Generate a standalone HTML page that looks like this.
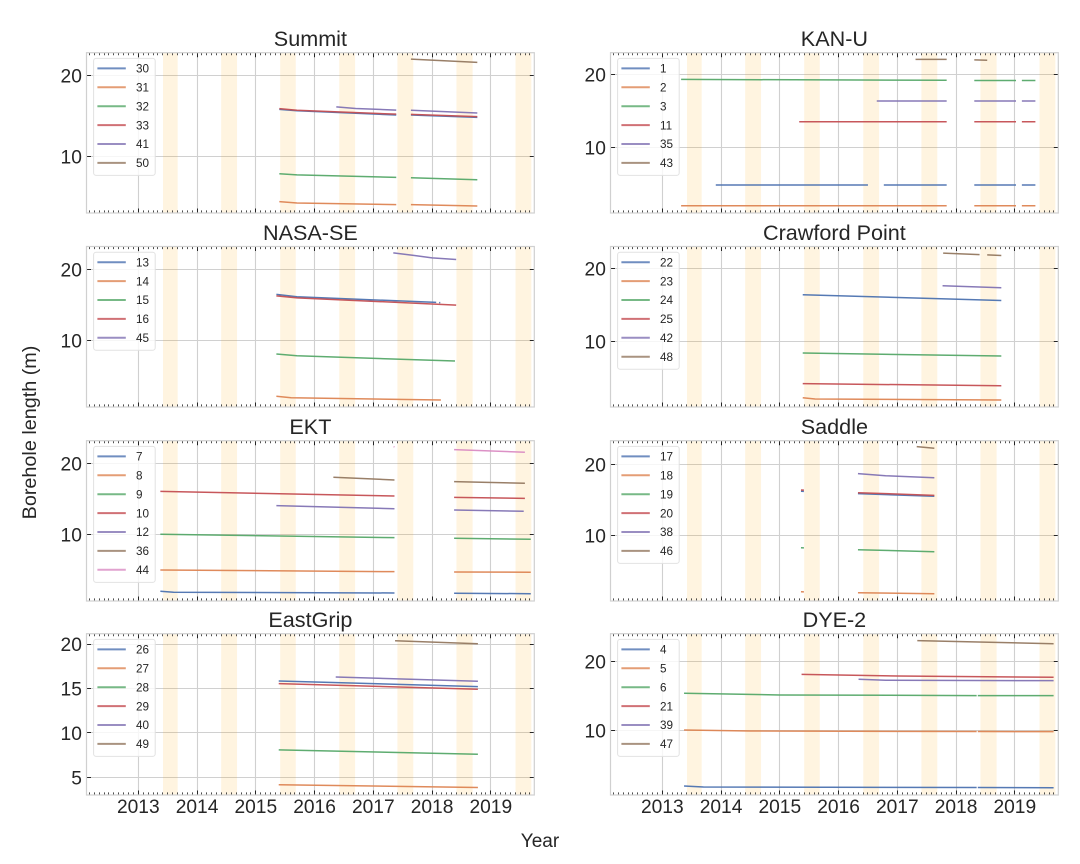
<!DOCTYPE html>
<html lang="en">
<head>
<meta charset="utf-8">
<title>Borehole length by site</title>
<style>
  html, body { margin: 0; padding: 0; background: #ffffff; }
  #figure { display: block; width: 1080px; height: 864px; }
  text { font-family: "Liberation Sans", Arial, sans-serif; fill: #262626; }
</style>
</head>
<body>
<svg id="figure" xmlns="http://www.w3.org/2000/svg" width="1080" height="864" viewBox="0 0 1080 864">
  <text x="540" y="847" font-size="19" text-anchor="middle">Year</text>
  <text x="36" y="432.5" font-size="19.8" text-anchor="middle" transform="rotate(-90 36 432.5)">Borehole length (m)</text>
</svg>
<script>
// ---------- shared data ----------
const yearTicks = [2013, 2014, 2015, 2016, 2017, 2018, 2019];
const xLimits = [2012.118, 2019.74];
const summerStarts = [2013.42, 2014.41, 2015.415, 2016.42, 2017.41, 2018.415, 2019.42];
const summerEnds = [2013.67, 2014.68, 2015.68, 2016.69, 2017.68, 2018.69, 2019.69];
const seriesColors = ['#4C72B0', '#DD8452', '#55A868', '#C44E52', '#8172B3', '#937860', '#DA8BC3'];

// ---------- Summit ----------
const summitLabels = ['30', '31', '32', '33', '41', '50'];
const summitYLimits = [3.0, 22.79];
const summitYTicks = [10, 20];
const summit30 = [[2015.40, 15.8], [2015.7, 15.62], [2017.39, 15.1], null, [2017.64, 15.1], [2018.77, 14.8]];
const summit31 = [[2015.40, 4.4], [2015.7, 4.23], [2017.39, 4.03], null, [2017.64, 4.03], [2018.77, 3.87]];
const summit32 = [[2015.40, 7.85], [2015.7, 7.7], [2017.39, 7.4], null, [2017.64, 7.35], [2018.77, 7.1]];
const summit33 = [[2015.40, 15.88], [2015.7, 15.68], [2017.39, 15.2], null, [2017.64, 15.18], [2018.77, 14.9]];
const summit41 = [[2016.37, 16.1], [2016.7, 15.9], [2017.39, 15.7], null, [2017.64, 15.68], [2018.77, 15.35]];
const summit50 = [[2017.64, 22.0], [2018.77, 21.6]];

// ---------- KAN-U ----------
const kanuLabels = ['1', '2', '3', '11', '35', '43'];
const kanuYLimits = [1.0, 22.96];
const kanuYTicks = [10, 20];
const kanu1 = [[2013.91, 4.83], [2016.5, 4.83], null, [2016.77, 4.83], [2017.84, 4.83], null, [2018.31, 4.83], [2019.02, 4.83], null, [2019.12, 4.83], [2019.35, 4.83]];
const kanu2 = [[2013.32, 2.0], [2017.84, 2.0], null, [2018.31, 2.0], [2019.02, 2.0], null, [2019.12, 2.0], [2019.35, 2.0]];
const kanu3 = [[2013.32, 19.3], [2017.84, 19.18], null, [2018.31, 19.15], [2019.02, 19.15], null, [2019.12, 19.15], [2019.35, 19.15]];
const kanu11 = [[2015.33, 13.5], [2017.84, 13.5], null, [2018.31, 13.5], [2019.02, 13.5], null, [2019.12, 13.5], [2019.35, 13.5]];
const kanu35 = [[2016.65, 16.35], [2017.84, 16.35], null, [2018.31, 16.35], [2019.02, 16.35], null, [2019.12, 16.35], [2019.35, 16.35]];
const kanu43 = [[2017.31, 22.05], [2017.84, 22.05], null, [2018.31, 21.97], [2018.53, 21.93]];

// ---------- NASA-SE ----------
const nasaLabels = ['13', '14', '15', '16', '45'];
const nasaYLimits = [0.6, 23.24];
const nasaYTicks = [10, 20];
const nasa13 = [[2015.35, 16.48], [2015.7, 16.15], [2018.07, 15.35], null, [2018.12, 15.33], [2018.14, 15.32]];
const nasa14 = [[2015.35, 2.11], [2015.6, 1.9], [2018.15, 1.59]];
const nasa15 = [[2015.35, 8.07], [2015.7, 7.83], [2018.39, 7.08]];
const nasa16 = [[2015.35, 16.28], [2015.7, 16.0], [2018.41, 14.97]];
const nasa45 = [[2017.34, 22.34], [2017.7, 21.97], [2018.0, 21.63], [2018.41, 21.4]];

// ---------- Crawford Point ----------
const crawfordLabels = ['22', '23', '24', '25', '42', '48'];
const crawfordYLimits = [1.0, 23.01];
const crawfordYTicks = [10, 20];
const crawford22 = [[2015.39, 16.39], [2018.77, 15.6]];
const crawford23 = [[2015.39, 2.27], [2015.6, 2.1], [2018.77, 1.96]];
const crawford24 = [[2015.39, 8.4], [2018.77, 7.99]];
const crawford25 = [[2015.39, 4.2], [2018.77, 3.92]];
const crawford42 = [[2017.77, 17.62], [2018.77, 17.35]];
const crawford48 = [[2017.78, 22.1], [2018.4, 21.9], null, [2018.53, 21.86], [2018.77, 21.78]];

// ---------- EKT ----------
const ektLabels = ['7', '8', '9', '10', '12', '36', '44'];
const ektYLimits = [0.6, 23.18];
const ektYTicks = [10, 20];
const ekt7 = [[2013.375, 1.97], [2013.6, 1.83], [2017.36, 1.73], null, [2018.375, 1.69], [2019.68, 1.63]];
const ekt8 = [[2013.375, 4.97], [2017.36, 4.73], null, [2018.375, 4.69], [2019.68, 4.65]];
const ekt9 = [[2013.375, 10.0], [2017.36, 9.52], null, [2018.375, 9.44], [2019.68, 9.3]];
const ekt10 = [[2013.375, 16.05], [2017.36, 15.39], null, [2018.375, 15.2], [2019.58, 15.05]];
const ekt12 = [[2015.35, 14.03], [2017.36, 13.6], null, [2018.375, 13.42], [2019.56, 13.24]];
const ekt36 = [[2016.32, 18.03], [2017.36, 17.65], null, [2018.375, 17.41], [2019.58, 17.18]];
const ekt44 = [[2017.345, 22.34], [2017.36, 22.3], null, [2018.375, 21.92], [2019.58, 21.55]];

// ---------- Saddle ----------
const saddleLabels = ['17', '18', '19', '20', '38', '46'];
const saddleYLimits = [0.75, 23.32];
const saddleYTicks = [10, 20];
const saddle17 = [[2015.36, 16.2], [2015.41, 16.18], null, [2016.33, 15.86], [2017.63, 15.49]];
const saddle18 = [[2015.36, 2.06], [2015.41, 2.04], null, [2016.33, 1.92], [2017.63, 1.77]];
const saddle19 = [[2015.36, 8.25], [2015.41, 8.23], null, [2016.33, 7.97], [2017.63, 7.69]];
const saddle20 = [[2015.36, 16.38], [2015.41, 16.36], null, [2016.33, 16.0], [2017.63, 15.63]];
const saddle38 = [[2016.33, 18.68], [2016.8, 18.39], [2017.63, 18.11]];
const saddle46 = [[2017.33, 22.48], [2017.63, 22.25]];

// ---------- EastGrip ----------
const eastgripLabels = ['26', '27', '28', '29', '40', '49'];
const eastgripYLimits = [3.01, 21.16];
const eastgripYTicks = [5, 10, 15, 20];
const eastgrip26 = [[2015.39, 15.84], [2018.78, 15.2]];
const eastgrip27 = [[2015.39, 4.16], [2018.78, 3.86]];
const eastgrip28 = [[2015.39, 8.09], [2018.78, 7.6]];
const eastgrip29 = [[2015.39, 15.54], [2018.78, 14.91]];
const eastgrip40 = [[2016.36, 16.29], [2018.78, 15.81]];
const eastgrip49 = [[2017.37, 20.37], [2018.78, 20.03]];

// ---------- DYE-2 ----------
const dyeLabels = ['4', '5', '6', '21', '39', '47'];
const dyeYLimits = [0.62, 24.0];
const dyeYTicks = [10, 20];
const dye4 = [[2013.37, 1.93], [2013.7, 1.78], [2018.35, 1.7], null, [2018.37, 1.7], [2019.66, 1.68]];
const dye5 = [[2013.37, 10.04], [2014.5, 9.9], [2018.35, 9.82], null, [2018.37, 9.82], [2019.66, 9.8]];
const dye6 = [[2013.37, 15.36], [2015, 15.12], [2018.35, 15.03], null, [2018.37, 15.03], [2019.66, 15.02]];
const dye21 = [[2015.37, 18.11], [2017, 17.87], [2019.66, 17.68]];
const dye39 = [[2016.34, 17.39], [2016.8, 17.25], [2019.66, 17.19]];
const dye47 = [[2017.34, 22.99], [2019.66, 22.55]];

// ---------- panel list ----------
const panelTitles = ['Summit', 'KAN-U', 'NASA-SE', 'Crawford Point', 'EKT', 'Saddle', 'EastGrip', 'DYE-2'];
const panelLabels = [summitLabels, kanuLabels, nasaLabels, crawfordLabels, ektLabels, saddleLabels, eastgripLabels, dyeLabels];
const panelYLimits = [summitYLimits, kanuYLimits, nasaYLimits, crawfordYLimits, ektYLimits, saddleYLimits, eastgripYLimits, dyeYLimits];
const panelYTicks = [summitYTicks, kanuYTicks, nasaYTicks, crawfordYTicks, ektYTicks, saddleYTicks, eastgripYTicks, dyeYTicks];
const panelSeries = [
  [summit30, summit31, summit32, summit33, summit41, summit50],
  [kanu1, kanu2, kanu3, kanu11, kanu35, kanu43],
  [nasa13, nasa14, nasa15, nasa16, nasa45],
  [crawford22, crawford23, crawford24, crawford25, crawford42, crawford48],
  [ekt7, ekt8, ekt9, ekt10, ekt12, ekt36, ekt44],
  [saddle17, saddle18, saddle19, saddle20, saddle38, saddle46],
  [eastgrip26, eastgrip27, eastgrip28, eastgrip29, eastgrip40, eastgrip49],
  [dye4, dye5, dye6, dye21, dye39, dye47]
];

// ---------- layout ----------
const NS = 'http://www.w3.org/2000/svg';
const figure = document.getElementById('figure');
const colLeft = [86.5, 610.5];
const axWidth = 447.8;
const rowTop = [52.7, 246.5, 440.7, 633.7];
const rowBottom = [213, 407, 601, 795];
const GRID = '#d0d0d0';
const INK = '#262626';

function make(parent, tag, attrs) {
  const node = document.createElementNS(NS, tag);
  for (const key in attrs) node.setAttribute(key, attrs[key]);
  parent.appendChild(node);
  return node;
}
function snap(v) { return Math.round(v - 0.5) + 0.5; }

panelTitles.forEach(function (title, i) {
  const col = i % 2;
  const row = Math.floor(i / 2);
  const left = colLeft[col];
  const right = left + axWidth;
  const top = rowTop[row];
  const bottom = rowBottom[row];
  const yLim = panelYLimits[i];
  const slug = title.toLowerCase().replace(/[^a-z0-9]+/g, '-');

  const xAt = function (yr) { return left + (yr - xLimits[0]) / (xLimits[1] - xLimits[0]) * axWidth; };
  const yAt = function (v) { return bottom - (v - yLim[0]) / (yLim[1] - yLim[0]) * (bottom - top); };

  const panel = make(figure, 'g', {});
  
  

  // grid
  let gridPath = '';
  yearTicks.forEach(function (t) { gridPath += 'M' + snap(xAt(t)) + ' ' + top + 'V' + bottom; });
  panelYTicks[i].forEach(function (t) { gridPath += 'M' + left + ' ' + snap(yAt(t)) + 'H' + right; });
  const grid = make(panel, 'path', { d: gridPath, fill: 'none', stroke: GRID, 'stroke-width': 1.1 });
  
  

  // summer bands
  summerStarts.forEach(function (s, b) {
    const band = make(panel, 'rect', {
      x: xAt(s), y: top, width: xAt(summerEnds[b]) - xAt(s), height: bottom - top,
      fill: '#ffa500', 'fill-opacity': 0.12
    });
    
    
  });

  // series
  panelSeries[i].forEach(function (points, s) {
    let d = '';
    let pen = false;
    points.forEach(function (p) {
      if (p === null) { pen = false; return; }
      d += (pen ? 'L' : 'M') + xAt(p[0]).toFixed(2) + ' ' + yAt(p[1]).toFixed(2);
      pen = true;
    });
    const line = make(panel, 'path', {
      d: d, fill: 'none', stroke: seriesColors[s], 'stroke-width': 1.5, 'stroke-opacity': 0.95
    });
    
    
  });

  // ticks
  let majorPath = '';
  yearTicks.forEach(function (t) {
    const x = snap(xAt(t));
    majorPath += 'M' + x + ' ' + bottom + 'v-4.5M' + x + ' ' + top + 'v4.5';
  });
  panelYTicks[i].forEach(function (t) {
    const y = snap(yAt(t));
    majorPath += 'M' + left + ' ' + y + 'h4.5M' + right + ' ' + y + 'h-4.5';
  });
  const majorTicks = make(panel, 'path', { d: majorPath, fill: 'none', stroke: INK, 'stroke-width': 1 });
  
  

  let minorPath = '';
  for (let y = 2012; y <= 2019; y++) {
    for (let m = 1; m < 12; m++) {
      const yr = y + m / 12;
      if (yr < xLimits[0] || yr > xLimits[1]) continue;
      const x = snap(xAt(yr));
      minorPath += 'M' + x + ' ' + bottom + 'v-2.6M' + x + ' ' + top + 'v2.6';
    }
  }
  const minorTicks = make(panel, 'path', { d: minorPath, fill: 'none', stroke: INK, 'stroke-width': 0.8 });
  
  

  // frame
  const frame = make(panel, 'rect', {
    x: left, y: top, width: axWidth, height: bottom - top, fill: 'none', stroke: GRID, 'stroke-width': 1.2
  });
  
  

  // y tick labels
  panelYTicks[i].forEach(function (t) {
    const label = make(panel, 'text', {
      x: left - 4.6, y: yAt(t) + 7, 'font-size': 19.2, 'text-anchor': 'end'
    });
    
    
    label.textContent = String(t);
  });

  // x tick labels
  if (row === 3) {
    yearTicks.forEach(function (t) {
      const label = make(panel, 'text', {
        x: xAt(t), y: 813, 'font-size': 19.2, 'text-anchor': 'middle'
      });
      
      
      label.textContent = String(t);
    });
  }

  // title
  const heading = make(panel, 'text', {
    x: left + axWidth / 2, y: top - 6.6, 'font-size': 21.6, 'text-anchor': 'middle'
  });
  
  
  heading.textContent = title;

  // legend
  const labels = panelLabels[i];
  const legendLeft = left + 7.1;
  const legendTop = top + 5.7;
  const legend = make(panel, 'g', {});
  
  
  const legendBox = make(legend, 'rect', {
    x: legendLeft, y: legendTop, width: 61.6, height: 19 * labels.length + 3,
    rx: 2.5, ry: 2.5, fill: '#ffffff', 'fill-opacity': 0.8, stroke: '#e2e2e2', 'stroke-width': 1
  });
  
  
  labels.forEach(function (lab, s) {
    const ly = legendTop + 10 + s * 18.9;
    const swatch = make(legend, 'line', {
      x1: legendLeft + 3.8, x2: legendLeft + 32.2, y1: ly, y2: ly,
      stroke: seriesColors[s], 'stroke-width': 2, 'stroke-opacity': 0.8
    });
    
    
    const entry = make(legend, 'text', {
      x: legendLeft + 42.4, y: ly + 4.2, 'font-size': 11.7
    });
    
    
    entry.textContent = lab;
  });
});
</script>
</body>
</html>
